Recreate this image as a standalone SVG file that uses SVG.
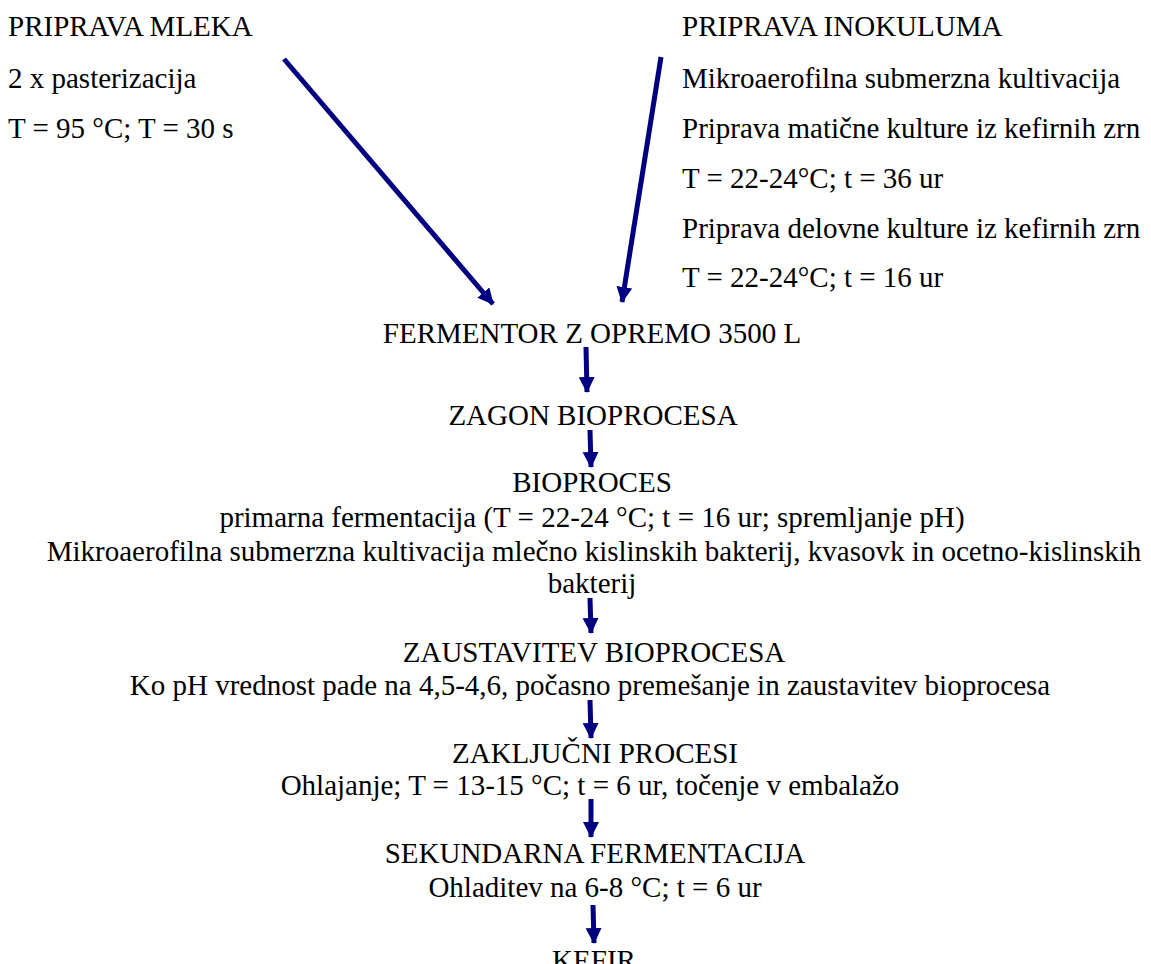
<svg xmlns="http://www.w3.org/2000/svg" width="1151" height="964" viewBox="0 0 1151 964">
<style>
text{font-family:"Liberation Serif","Times New Roman",serif;font-size:29px;fill:#000}
.c{text-anchor:middle}
.a{stroke:#000080;stroke-width:5;fill:none}
</style>
<defs>
<marker id="ah" markerUnits="userSpaceOnUse" markerWidth="18" markerHeight="18" refX="15" refY="8" orient="auto">
<path d="M0,0 L16,8 L0,16 Z" fill="#000080"/>
</marker>
</defs>
<rect width="1151" height="964" fill="#fff"/>
<g id="mleko">
<text x="8" y="36">PRIPRAVA MLEKA</text>
<text x="8" y="88">2 x pasterizacija</text>
<text x="8" y="138">T = 95 °C; T = 30 s</text>
</g>
<g id="inokulum">
<text x="682" y="36">PRIPRAVA INOKULUMA</text>
<text x="682" y="88">Mikroaerofilna submerzna kultivacija</text>
<text x="682" y="138">Priprava matične kulture iz kefirnih zrn</text>
<text x="682" y="188">T = 22-24°C; t = 36 ur</text>
<text x="682" y="238">Priprava delovne kulture iz kefirnih zrn</text>
<text x="682" y="287">T = 22-24°C; t = 16 ur</text>
</g>
<g id="fermentor"><text class="c" x="592" y="343">FERMENTOR Z OPREMO 3500 L</text></g>
<g id="zagon"><text class="c" x="593" y="425">ZAGON BIOPROCESA</text></g>
<g id="bioproces">
<text class="c" x="592" y="492">BIOPROCES</text>
<text class="c" x="592" y="527">primarna fermentacija (T = 22-24 °C; t = 16 ur; spremljanje pH)</text>
<text class="c" x="594" y="561">Mikroaerofilna submerzna kultivacija mlečno kislinskih bakterij, kvasovk in ocetno-kislinskih</text>
<text class="c" x="592" y="593">bakterij</text>
</g>
<g id="zaustavitev">
<text class="c" x="594" y="662">ZAUSTAVITEV BIOPROCESA</text>
<text class="c" x="590" y="695">Ko pH vrednost pade na 4,5-4,6, počasno premešanje in zaustavitev bioprocesa</text>
</g>
<g id="zakljucni">
<text class="c" x="595" y="763">ZAKLJUČNI PROCESI</text>
<text class="c" x="590" y="795">Ohlajanje; T = 13-15 °C; t = 6 ur, točenje v embalažo</text>
</g>
<g id="sekundarna">
<text class="c" x="595" y="863">SEKUNDARNA FERMENTACIJA</text>
<text class="c" x="595" y="897">Ohladitev na 6-8 °C; t = 6 ur</text>
</g>
<g id="kefir"><text class="c" x="594" y="970">KEFIR</text></g>
<g id="connectors">
<line class="a" x1="284" y1="59" x2="493" y2="304" marker-end="url(#ah)"/>
<line class="a" x1="661" y1="57" x2="622" y2="302" marker-end="url(#ah)"/>
<line class="a" x1="586" y1="347" x2="587" y2="392" marker-end="url(#ah)"/>
<line class="a" x1="590" y1="430" x2="591" y2="467" marker-end="url(#ah)"/>
<line class="a" x1="590" y1="598" x2="591" y2="633" marker-end="url(#ah)"/>
<line class="a" x1="590" y1="700" x2="591" y2="738" marker-end="url(#ah)"/>
<line class="a" x1="591" y1="799" x2="591" y2="837" marker-end="url(#ah)"/>
<line class="a" x1="593" y1="905" x2="594" y2="943" marker-end="url(#ah)"/>
</g>
</svg>
